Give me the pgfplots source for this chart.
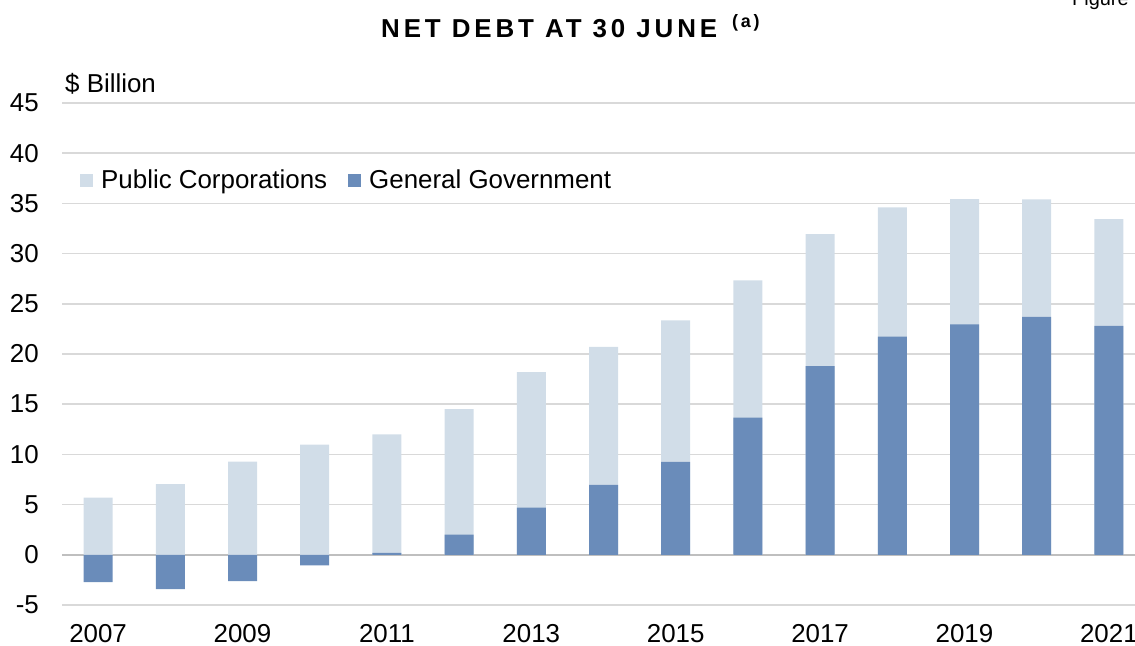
\documentclass[border=0pt]{standalone}
\usepackage{fontspec}
\setmainfont{Liberation Sans}
\usepackage{pgfplots}
\pgfplotsset{compat=1.18}
\usepackage{pgfplotstable}
\definecolor{pccol}{RGB}{209,221,232}
\definecolor{ggcol}{RGB}{106,140,186}
\definecolor{gridc}{RGB}{217,217,217}
\definecolor{zeroc}{RGB}{191,191,191}
\newcommand\lbl{\fontsize{26}{31}\selectfont}

\pgfplotstableread{
x year gg pc
0 2007 -2.72 5.70
1 2008 -3.42 7.03
2 2009 -2.62 9.28
3 2010 -1.06 10.98
4 2011 0.20 11.80
5 2012 2.00 12.50
6 2013 4.70 13.50
7 2014 6.97 13.73
8 2015 9.25 14.10
9 2016 13.66 13.67
10 2017 18.80 13.14
11 2018 21.72 12.88
12 2019 22.95 12.47
13 2020 23.71 11.68
14 2021 22.79 10.64
}\netdebt

\begin{document}
\begin{tikzpicture}
\useasboundingbox (0,0) rectangle (1135bp,646bp);
\begin{axis}[
  at={(62bp,41bp)}, anchor=south west,
  scale only axis, width=1083bp, height=502bp,
  xmin=-0.5, xmax=14.5, ymin=-5, ymax=45,
  ybar,
  legend image code/.code={\fill[#1,draw=none] (0bp,-6.5bp) rectangle (13bp,6.5bp);},
  axis line style={draw=none},
  major tick length=0pt,
  xtick={0,2,4,6,8,10,12,14},
  xticklabels={2007,2009,2011,2013,2015,2017,2019,2021},
  ytick={-5,0,5,10,15,20,25,30,35,40,45},
  yticklabels={-5,0,5,10,15,20,25,30,35,40,45},
  tick label style={font=\lbl},
  yticklabel style={anchor=east, inner sep=0pt, xshift=-23bp},
  xticklabel style={anchor=base, inner sep=0pt, yshift=-37bp},
  ymajorgrids,
  major grid style={draw=gridc, line width=1.5bp},
  extra y ticks={0},
  extra y tick labels={},
  extra y tick style={grid=major, major grid style={draw=zeroc, line width=1.5bp}},
  legend columns=2,
  legend style={at={(axis description cs:0.0166,0.8466)}, anchor=west,
    draw=none, fill=none, inner sep=0pt, font=\lbl,
    nodes={inner sep=0pt},
    /tikz/every odd column/.append style={column sep=8bp},
    /tikz/every even column/.append style={column sep=21bp}},
  legend cell align=left,
]
\addplot[fill=pccol, draw=none, bar width=29bp, bar shift=0pt]
  table[x=x, y expr={\thisrow{pc}+max(\thisrow{gg},0)}] {\netdebt};
\addlegendentry{Public Corporations}
\addplot[fill=ggcol, draw=none, bar width=29bp, bar shift=0pt]
  table[x=x, y=gg] {\netdebt};
\addlegendentry{General Government}
\end{axis}
\node[anchor=base west, inner sep=0pt] at (381bp,608bp)
  {\fontsize{26}{30}\selectfont\bfseries\addfontfeature{LetterSpace=15}NET DEBT AT 30 JUNE};
\node[anchor=base west, inner sep=0pt] at (732bp,618bp)
  {\fontsize{18}{21}\selectfont\bfseries\addfontfeature{LetterSpace=15}(a)};
\node[anchor=base west, inner sep=0pt] at (1072bp,640bp)
  {\fontsize{20}{24}\selectfont Figure};
\node[anchor=base west, inner sep=0pt] at (65bp,553bp) {\lbl \$ Billion};
\end{tikzpicture}
\end{document}
